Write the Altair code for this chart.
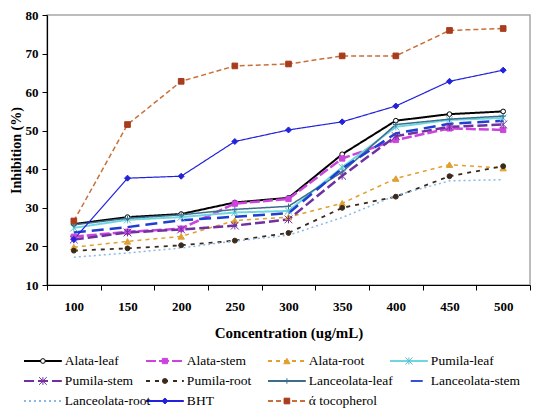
import altair as alt
import pandas as pd

# concentrations (ug/mL)
conc = [100, 150, 200, 250, 300, 350, 400, 450, 500]

series = ["Alata-leaf", "Alata-stem", "Alata-root", "Pumila-leaf",
          "Pumila-stem", "Pumila-root", "Lanceolata-leaf", "Lanceolata-stem",
          "Lanceolata-root", "BHT", "ά tocopherol"]

alata_leaf = [25.8, 27.6, 28.4, 31.4, 32.6, 43.9, 52.6, 54.3, 55.0]
alata_stem = [22.5, 23.8, 24.6, 31.1, 32.3, 42.8, 47.6, 50.6, 50.2]
alata_root = [19.8, 21.3, 22.6, 26.7, 27.6, 31.2, 37.6, 41.2, 40.3]
pumila_leaf = [24.8, 26.9, 27.6, 28.8, 29.2, 40.5, 51.0, 52.8, 53.3]
pumila_stem = [21.8, 23.6, 24.4, 25.4, 27.0, 38.3, 48.6, 51.0, 51.6]
pumila_root = [18.9, 19.5, 20.3, 21.5, 23.5, 30.0, 32.9, 38.2, 40.8]
lanceolata_leaf = [25.6, 27.3, 28.2, 29.6, 30.4, 39.3, 51.6, 53.0, 53.8]
lanceolata_stem = [23.6, 25.0, 26.8, 27.7, 28.6, 40.2, 49.3, 51.8, 52.6]
lanceolata_root = [17.2, 18.3, 19.6, 21.4, 22.9, 27.5, 33.2, 37.0, 37.3]
bht = [21.8, 37.7, 38.2, 47.2, 50.2, 52.3, 56.4, 62.8, 65.7]
tocopherol = [26.6, 51.6, 62.8, 66.8, 67.3, 69.4, 69.4, 76.0, 76.5]

values = [alata_leaf, alata_stem, alata_root, pumila_leaf, pumila_stem,
          pumila_root, lanceolata_leaf, lanceolata_stem, lanceolata_root,
          bht, tocopherol]

# styles
colors = ["#000000", "#cc44dd", "#e0a030", "#6fd6e0", "#7030a0", "#3a2a1c",
          "#3c6e8c", "#1f3fd0", "#8ab8e8", "#2222dd", "#c8703c"]
dashes = [[1, 0], [10, 3], [4, 4], [1, 0], [10, 4], [4, 5],
          [1, 0], [12, 6], [2, 3], [1, 0], [5, 3]]
widths = [2, 2.5, 1.5, 2, 2.5, 1.8, 1.5, 2.5, 1.5, 1.2, 1.5]
# where each legend swatch starts inside its column (column units)
swatch_start = [0, 0, 0, 0, 0, 0, 0, 0.17, 0, 0, 0]

asterisk = "M-1,-1L1,1M-1,1L1,-1M0,-1L0,1"
plus = "M-1,0L1,0M0,-1L0,1"
marker_series = ["Alata-leaf", "Alata-stem", "Alata-root", "Pumila-leaf",
                 "Pumila-stem", "Pumila-root", "Lanceolata-leaf", "BHT",
                 "ά tocopherol"]
marker_shapes = ["circle", "square", "triangle-up", asterisk, asterisk,
                 "circle", plus, "diamond", "square"]
marker_fill = ["white", "#cc44dd", "#e0a030", "#6fd6e0", "#7030a0",
               "#3a2a1c", "#3c6e8c", "#2222dd", "#a83c1c"]
marker_stroke = ["#000000", "#cc44dd", "#e0a030", "#5bc0d0", "#7030a0",
                 "#3a2a1c", "#3c6e8c", "#2222dd", "#a83c1c"]
marker_size = [22, 28, 40, 50, 60, 24, 30, 36, 32]

serif = "Liberation Serif, Times New Roman, DejaVu Serif, serif"

rows = []
for name, vals, w in zip(series, values, widths):
    for c, v in zip(conc, vals):
        rows.append({"series": name, "conc": c, "value": v, "sw": w})
df = pd.DataFrame(rows)
size_map = dict(zip(marker_series, marker_size))
pts = df[df["series"].isin(marker_series)].copy()
pts["ms"] = pts["series"].map(size_map)

color_scale = alt.Scale(domain=series, range=colors)
dash_scale = alt.Scale(domain=series, range=dashes)
shape_scale = alt.Scale(domain=marker_series, range=marker_shapes)
fill_scale = alt.Scale(domain=marker_series, range=marker_fill)
stroke_scale = alt.Scale(domain=marker_series, range=marker_stroke)

x = alt.X("conc:O", title="Concentration (ug/mL)",
          scale=alt.Scale(type="band", paddingInner=0, paddingOuter=0),
          bandPosition=0.5,
          axis=alt.Axis(labelAngle=0, tickBand="extent", tickSize=5,
                        labelPadding=10, titlePadding=12,
                        labelFont=serif, labelFontSize=13, labelFontWeight="bold",
                        titleFont=serif, titleFontSize=15, titleFontWeight="bold",
                        labelColor="black", titleColor="black",
                        domainColor="black", tickColor="black", domainWidth=1.2))
y = alt.Y("value:Q", title="Inhibition (%)",
          scale=alt.Scale(domain=[10, 80]),
          axis=alt.Axis(values=[10, 20, 30, 40, 50, 60, 70, 80], grid=False,
                        tickSize=5, labelPadding=4, titlePadding=2,
                        labelFont=serif, labelFontSize=13, labelFontWeight="bold",
                        titleFont=serif, titleFontSize=14, titleFontWeight="bold",
                        labelColor="black", titleColor="black",
                        domainColor="black", tickColor="black", domainWidth=1.2))

lines = alt.Chart(df).mark_line().encode(
    x=x,
    y=y,
    color=alt.Color("series:N", scale=color_scale, legend=None),
    strokeDash=alt.StrokeDash("series:N", scale=dash_scale, legend=None),
    strokeWidth=alt.StrokeWidth("sw:Q", scale=None),
)

points = alt.Chart(pts).mark_point(filled=False, opacity=1, strokeWidth=1).encode(
    x=x,
    y=y,
    shape=alt.Shape("series:N", scale=shape_scale, legend=None),
    fill=alt.Fill("series:N", scale=fill_scale, legend=None),
    stroke=alt.Stroke("series:N", scale=stroke_scale, legend=None),
    size=alt.Size("ms:Q", scale=None),
)

plot = alt.layer(lines, points).properties(
    width=483, height=270,
    view=alt.ViewBackground(stroke="#a6a6a6", strokeWidth=1.5),
)

# hand-made legend, 4 columns x 3 rows, origin shared with the plot area
leg = pd.DataFrame({"series": series, "idx": list(range(len(series))),
                    "s0": swatch_start})
leg_pts = leg[leg["series"].isin(marker_series)].copy()
leg_pts["ms"] = leg_pts["series"].map(size_map)

lx = alt.Scale(domain=[0.1885, 4.1475])
ly = alt.Scale(domain=[-0.3, 2.3], reverse=True)
calc = dict(col="datum.idx % 4", row="floor(datum.idx / 4)")

leg_lines = alt.Chart(leg).mark_rule().transform_calculate(**calc).transform_calculate(
    x0="datum.col + datum.s0", x1="datum.col + 0.31"
).encode(
    x=alt.X("x0:Q", scale=lx, axis=None),
    x2="x1:Q",
    y=alt.Y("row:Q", scale=ly, axis=None),
    color=alt.Color("series:N", scale=color_scale, legend=None),
    strokeDash=alt.StrokeDash("series:N", scale=dash_scale, legend=None),
    strokeWidth=alt.value(1.8),
)

leg_marks = alt.Chart(leg_pts).mark_point(filled=False, opacity=1, strokeWidth=1).transform_calculate(
    **calc).transform_calculate(xm="datum.col + 0.155").encode(
    x=alt.X("xm:Q", scale=lx, axis=None),
    y=alt.Y("row:Q", scale=ly, axis=None),
    shape=alt.Shape("series:N", scale=shape_scale, legend=None),
    fill=alt.Fill("series:N", scale=fill_scale, legend=None),
    stroke=alt.Stroke("series:N", scale=stroke_scale, legend=None),
    size=alt.Size("ms:Q", scale=None),
)

leg_text = alt.Chart(leg).mark_text(
    align="left", baseline="middle", font=serif, fontSize=13.5, color="black"
).transform_calculate(**calc).transform_calculate(xt="datum.col + 0.335").encode(
    x=alt.X("xt:Q", scale=lx, axis=None),
    y=alt.Y("row:Q", scale=ly, axis=None),
    text="series:N",
)

legend = alt.layer(leg_lines, leg_marks, leg_text).properties(
    width=483, height=52,
    view=alt.ViewBackground(stroke="transparent"),
)

chart = alt.vconcat(plot, legend, spacing=12).properties(
    padding=0, background="white"
).resolve_scale(x="independent", y="independent")

chart.save("out.html", embed_options={"renderer": "svg", "actions": False})
